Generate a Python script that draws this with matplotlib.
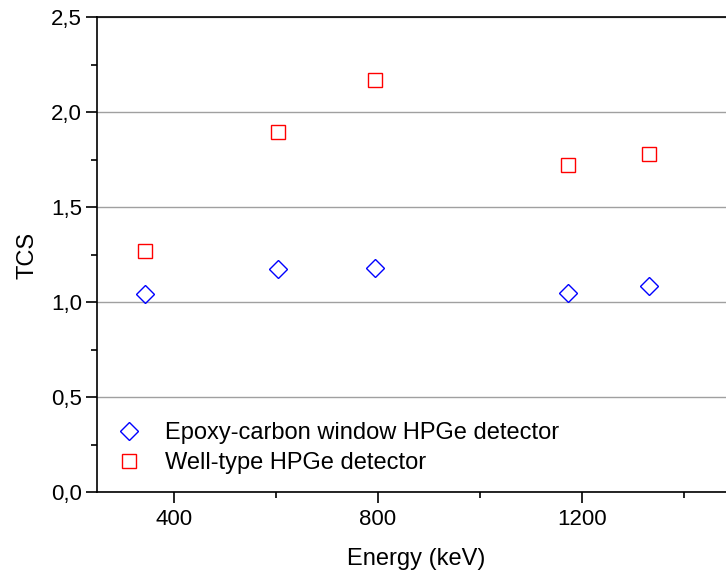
import numpy as np
import matplotlib
matplotlib.use('Agg')
import matplotlib.pyplot as plt
from matplotlib.ticker import MultipleLocator, FuncFormatter

plt.rcParams['font.family'] = ['Liberation Sans', 'DejaVu Sans']

# ──────────────────────────────────────────────
# DATA
# ──────────────────────────────────────────────
energy_kev = [344, 604, 795, 1173, 1332]
tcs_epoxy  = [1.046, 1.178, 1.180, 1.051, 1.089]
tcs_well   = [1.273, 1.895, 2.172, 1.723, 1.779]

label_epoxy = 'Epoxy-carbon window HPGe detector'
label_well  = 'Well-type HPGe detector'

# ──────────────────────────────────────────────
# FIGURE
# ──────────────────────────────────────────────
fig = plt.figure(figsize=(7.26, 5.79), dpi=100)
# right edge of the frame lies outside the picture, as in the original
ax = fig.add_axes([0.134, 0.1494, 0.8784, 0.8204])

ax.plot(energy_kev, tcs_epoxy, linestyle='none', marker='D',
        markersize=9.3, markerfacecolor='none', markeredgecolor='#0000ff',
        markeredgewidth=1.0, label=label_epoxy, zorder=5)
ax.plot(energy_kev, tcs_well, linestyle='none', marker='s',
        markersize=9.6, markerfacecolor='none', markeredgecolor='#ff0000',
        markeredgewidth=1.0, label=label_well, zorder=5)

ax.set_xlim(250, 1500)
ax.set_ylim(0, 2.5)

ax.xaxis.set_major_locator(MultipleLocator(400))
ax.xaxis.set_minor_locator(MultipleLocator(200))
ax.yaxis.set_major_locator(MultipleLocator(0.5))
ax.yaxis.set_minor_locator(MultipleLocator(0.25))
ax.yaxis.set_major_formatter(FuncFormatter(lambda v, p: f'{v:.1f}'.replace('.', ',')))

ax.grid(axis='y', which='major', color='#a0a0a0', linewidth=1.0)
ax.set_axisbelow(True)

for side in ['left', 'bottom', 'top']:
    ax.spines[side].set_linewidth(1.2)
ax.spines['right'].set_visible(False)

ax.tick_params(which='major', direction='out', length=8, width=1.2,
               labelsize=16)
ax.tick_params(which='minor', direction='out', length=4, width=1.2)
ax.tick_params(axis='y', pad=3)
ax.tick_params(axis='x', pad=4)

ax.set_xlabel('Energy (keV)', fontsize=17, labelpad=13)
ax.set_ylabel('TCS', fontsize=17, labelpad=9)

ax.legend(loc='center left', bbox_to_anchor=(0.0, 0.093), frameon=False,
          fontsize=17, handletextpad=0.78, borderaxespad=0.2,
          labelspacing=0.34, handlelength=1.48)

plt.savefig('out.png', dpi=100)
